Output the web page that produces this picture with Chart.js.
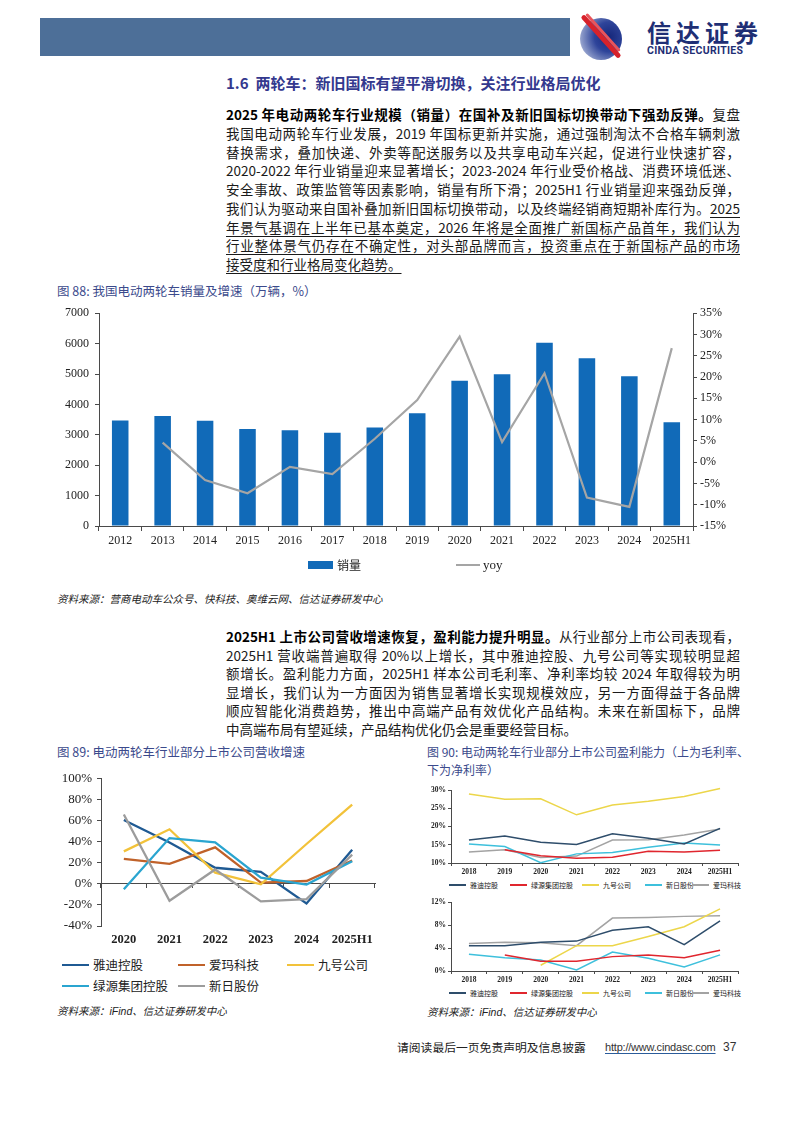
<!DOCTYPE html>
<html><head><meta charset="utf-8">
<script src="https://cdn.jsdelivr.net/npm/chart.js@4.4.0/dist/chart.umd.min.js"></script>
<style>
html,body{margin:0;padding:0;background:#fff;}
body{width:794px;height:1123px;position:relative;overflow:hidden;font-family:"Noto Sans CJK SC","Noto Sans",sans-serif;color:#111;}
.abs{position:absolute;}
.pl{position:absolute;left:226px;width:514px;height:18px;line-height:18px;font-size:13.5px;text-align:justify;text-align-last:justify;color:#1a1a1a;}
.pl.last{text-align-last:left;}
.pl b{font-weight:700;color:#000;}
.pl u{text-underline-offset:3px;text-decoration-thickness:1px;}
.ftitle{position:absolute;font-size:12.5px;color:#3b4a8c;line-height:16px;white-space:nowrap;}
.src{position:absolute;font-size:10.5px;font-style:italic;color:#222;white-space:nowrap;line-height:14px;}
.lg{position:absolute;white-space:nowrap;}
canvas{position:absolute;}
</style></head>
<body>
<!-- header -->
<div class="abs" style="left:40px;top:18px;width:530px;height:38px;background:#4d6f98;"></div>
<div class="abs" style="left:580px;top:18px;width:42px;height:42px;border-radius:50%;background:radial-gradient(circle at 70% 45%,#16277a 0%,#2e449a 40%,#8d9bc9 75%,#e9ecf5 100%);"></div>
<div class="abs" style="left:573px;top:34px;width:56px;height:5px;background:#d7222b;transform:rotate(48deg);border-radius:3px;"></div>
<div class="abs" style="left:578px;top:31px;width:50px;height:3px;background:#e9545a;transform:rotate(48deg);border-radius:2px;"></div>
<div class="abs" style="left:647px;top:19px;font-size:24px;font-weight:700;color:#1f2f75;letter-spacing:5px;line-height:26px;white-space:nowrap;">信达证券</div>
<div class="abs" style="left:647px;top:46px;font-size:10.5px;font-weight:700;color:#1f2f75;letter-spacing:0.3px;line-height:10px;white-space:nowrap;font-family:'Roboto','Noto Sans',sans-serif;">CINDA SECURITIES</div>

<!-- section title -->
<div class="abs" style="left:226px;top:74px;font-size:15px;font-weight:700;color:#33388e;line-height:18px;white-space:nowrap;">1.6&nbsp; 两轮车：新旧国标有望平滑切换，关注行业格局优化</div>

<!-- paragraph 1 -->
<div class="pl" style="top:105px;"><b>2025 年电动两轮车行业规模（销量）在国补及新旧国标切换带动下强劲反弹。</b>复盘</div>
<div class="pl" style="top:124px;">我国电动两轮车行业发展，2019 年国标更新并实施，通过强制淘汰不合格车辆刺激</div>
<div class="pl" style="top:142.5px;">替换需求，叠加快递、外卖等配送服务以及共享电动车兴起，促进行业快速扩容，</div>
<div class="pl" style="top:161px;">2020-2022 年行业销量迎来显著增长；2023-2024 年行业受价格战、消费环境低迷、</div>
<div class="pl" style="top:180px;">安全事故、政策监管等因素影响，销量有所下滑；2025H1 行业销量迎来强劲反弹，</div>
<div class="pl" style="top:199px;">我们认为驱动来自国补叠加新旧国标切换带动，以及终端经销商短期补库行为。<u>2025</u></div>
<div class="pl" style="top:217.5px;"><u>年景气基调在上半年已基本奠定，2026 年将是全面推广新国标产品首年，我们认为</u></div>
<div class="pl" style="top:236px;"><u>行业整体景气仍存在不确定性，对头部品牌而言，投资重点在于新国标产品的市场</u></div>
<div class="pl last" style="top:255px;"><u>接受度和行业格局变化趋势。</u></div>

<!-- figure 88 -->
<div class="ftitle" style="left:57px;top:283px;">图 88: 我国电动两轮车销量及增速（万辆，%）</div>
<canvas id="c88" width="720" height="260" style="left:40px;top:300px;width:720px;height:260px;"></canvas>
<div class="lg" style="left:308px;top:561px;width:25px;height:8px;background:#116ab8;"></div>
<div class="lg" style="left:337px;top:557px;font-size:12px;line-height:16px;color:#222;">销量</div>
<div class="lg" style="left:456px;top:564px;width:24px;height:2px;background:#a5a5a5;"></div>
<div class="lg" style="left:483px;top:557px;font-size:13px;line-height:16px;color:#222;font-family:'Liberation Serif',serif;">yoy</div>
<div class="src" style="left:57px;top:592px;">资料来源：营商电动车公众号、快科技、奥维云网、信达证券研发中心</div>

<!-- paragraph 2 -->
<div class="pl" style="top:627px;"><b>2025H1 上市公司营收增速恢复，盈利能力提升明显。</b>从行业部分上市公司表现看，</div>
<div class="pl" style="top:645.5px;">2025H1 营收端普遍取得 20%以上增长，其中雅迪控股、九号公司等实现较明显超</div>
<div class="pl" style="top:664px;">额增长。盈利能力方面，2025H1 样本公司毛利率、净利率均较 2024 年取得较为明</div>
<div class="pl" style="top:682.5px;">显增长，我们认为一方面因为销售显著增长实现规模效应，另一方面得益于各品牌</div>
<div class="pl" style="top:701px;">顺应智能化消费趋势，推出中高端产品有效优化产品结构。未来在新国标下，品牌</div>
<div class="pl last" style="top:719.5px;">中高端布局有望延续，产品结构优化仍会是重要经营目标。</div>

<!-- figure 89 -->
<div class="ftitle" style="left:57px;top:744px;">图 89: 电动两轮车行业部分上市公司营收增速</div>
<canvas id="c89" width="345" height="184" style="left:40px;top:766px;width:345px;height:184px;"></canvas>
<div id="lg89"></div>
<div class="src" style="left:57px;top:1004px;">资料来源：<span style="font-family:'Liberation Sans',sans-serif;">iFind</span>、信达证券研发中心</div>

<!-- figure 90 -->
<div class="ftitle" style="left:427px;top:744px;font-size:12px;">图 90: 电动两轮车行业部分上市公司盈利能力（上为毛利率、</div>
<div class="ftitle" style="left:427px;top:762px;font-size:12px;">下为净利率）</div>
<canvas id="c90a" width="330" height="98" style="left:420px;top:782px;width:330px;height:98px;"></canvas>
<div id="lg90a"></div>
<canvas id="c90b" width="330" height="94" style="left:420px;top:894px;width:330px;height:94px;"></canvas>
<div id="lg90b"></div>
<div class="src" style="left:427px;top:1005px;">资料来源：<span style="font-family:'Liberation Sans',sans-serif;">iFind</span>、信达证券研发中心</div>

<!-- footer -->
<div class="abs" style="left:397px;top:1040px;font-size:11.8px;line-height:14px;color:#222;white-space:nowrap;">请阅读最后一页免责声明及信息披露</div>
<div class="abs" style="left:605px;top:1040px;font-size:11px;line-height:14px;color:#333;white-space:nowrap;font-family:'Liberation Sans',sans-serif;letter-spacing:-0.2px;text-decoration:underline;text-decoration-color:#2b5c9a;text-underline-offset:2px;">http://www.cindasc.com</div>
<div class="abs" style="left:723px;top:1040px;font-size:12px;line-height:14px;color:#333;font-family:'Liberation Sans',sans-serif;">37</div>

<script>
// ---------- data ----------
const years88 = ['2012','2013','2014','2015','2016','2017','2018','2019','2020','2021','2022','2023','2024','2025H1'];
const sales88 = [3470,3620,3460,3190,3150,3070,3240,3710,4780,4990,6030,5520,4930,3410];
const yoy88 = [null,4.6,-4.2,-7.3,-1.1,-2.8,5.5,14.6,29.5,4.7,20.9,-8.3,-10.5,26.8];

const years89 = ['2020','2021','2022','2023','2024','2025H1'];
const names89 = ['雅迪控股','爱玛科技','九号公司','绿源集团控股','新日股份'];
const yadea89 = [60.8,39.5,15.4,11.6,-18.5,32.6];
const aima89 = [23.8,19.1,34.8,1.2,2.8,22.3];
const ninebot89 = [31.0,52.0,10.7,-0.3,38.0,75.5];
const luyuan89 = [-5.0,43.6,39.5,6.0,-0.6,21.6];
const sunra89 = [66.0,-16.0,13.8,-16.6,-14.4,27.9];

const years90 = ['2018','2019','2020','2021','2022','2023','2024','2025H1'];
const names90 = ['雅迪控股','绿源集团控股','九号公司','新日股份','爱玛科技'];
const gmYadea = [16.3,17.4,15.7,15.1,18.0,16.8,15.2,19.5];
const gmLuyuan = [null,13.6,12.0,11.3,11.6,13.2,13.0,13.5];
const gmNinebot = [28.9,27.5,27.6,23.2,25.9,26.9,28.2,30.4];
const gmSunra = [15.2,14.5,10.1,12.5,12.9,14.3,15.5,14.9];
const gmAima = [13.0,13.6,11.5,11.9,16.3,16.4,17.7,19.3];
const nmYadea = [4.4,4.4,5.0,5.2,7.1,7.7,4.6,8.7];
const nmLuyuan = [null,2.8,1.7,1.7,2.5,2.8,2.3,3.6];
const nmNinebot = [null,null,1.0,4.4,4.4,6.0,7.7,10.8];
const nmSunra = [2.9,2.3,1.9,0.2,3.3,2.2,0.7,2.8];
const nmAima = [4.8,5.0,4.9,4.4,9.2,9.3,9.5,9.6];

// ---------- styles ----------
const SERIF = "'Liberation Serif','Times New Roman',serif";
const AX = '#4a4a4a';
const col89 = ['#1f5a93','#c0622a','#f2c23a','#2aa5d0','#9c9c9c'];
const col90 = ['#2e4d6b','#e0262e','#ecd64a','#3ec0dc','#a3a3a3'];

Chart.defaults.animation = false;
Chart.defaults.responsive = false;
Chart.defaults.devicePixelRatio = 1;
Chart.defaults.plugins.legend.display = false;
Chart.defaults.plugins.tooltip.enabled = false;

// ---------- chart 88 ----------
new Chart(document.getElementById('c88'), {
  data: { labels: years88, datasets: [
    { type:'line', label:'yoy', data: yoy88, yAxisID:'y1', xAxisID:'x', borderColor:'#a5a5a5', borderWidth:2.2, pointRadius:0, tension:0, order:1 },
    { type:'bar', label:'销量', data: sales88, yAxisID:'y', xAxisID:'x', backgroundColor:'#116ab8', barPercentage:0.39, categoryPercentage:1, order:2 }
  ]},
  options: {
    layout: { padding: { top:13, left:0, right:0, bottom:0 } },
    scales: {
      x: { type:'category', offset:true,
           grid:{ display:true, drawOnChartArea:false, offset:true, tickLength:5, color:AX },
           border:{ display:true, color:AX, width:1 },
           ticks:{ font:{ family:SERIF, size:12 }, color:'#222', padding:3, maxRotation:0, autoSkip:false },
           afterFit(s){ s.height = 34; } },
      y: { position:'left', min:0, max:7000,
           ticks:{ stepSize:1000, font:{ family:SERIF, size:12 }, color:'#222', padding:6, callback:v=>String(v) },
           grid:{ drawOnChartArea:false, tickLength:4, color:AX },
           border:{ display:true, color:AX },
           afterFit(s){ s.width = 59; } },
      y1:{ position:'right', min:-15, max:35,
           ticks:{ stepSize:5, font:{ family:SERIF, size:12 }, color:'#222', padding:3, callback:v=>v+'%' },
           grid:{ drawOnChartArea:false, tickLength:4, color:AX },
           border:{ display:true, color:AX },
           afterFit(s){ s.width = 67; } }
    }
  }
});

// ---------- chart 89 ----------
const series89 = [yadea89, aima89, ninebot89, luyuan89, sunra89];
new Chart(document.getElementById('c89'), {
  type:'line',
  data: { labels: years89, datasets: series89.map((d,i)=>({
    label:names89[i], data:d, xAxisID:'x', yAxisID:'y', borderColor:col89[i], borderWidth:2.3, pointRadius:0, tension:0
  })).reverse() },
  options: {
    layout:{ padding:{ top:11, left:0, right:10, bottom:0 } },
    scales: {
      x: { type:'category', offset:true, position:'bottom',
           grid:{ display:false, drawTicks:false, tickLength:0 }, border:{ display:false },
           ticks:{ font:{ family:SERIF, size:12.5, weight:'bold' }, color:'#222', padding:6, maxRotation:0, autoSkip:false },
           afterFit(s){ s.height = 24; } },
      x2:{ type:'category', axis:'x', offset:true, position:{ y:0 },
           ticks:{ display:false },
           grid:{ drawOnChartArea:false, offset:true, tickLength:4, color:AX },
           border:{ display:true, color:AX } },
      y: { min:-40, max:100,
           ticks:{ stepSize:20, font:{ family:SERIF, size:13 }, color:'#222', padding:5, callback:v=>v+'%' },
           grid:{ drawOnChartArea:false, tickLength:4, color:AX },
           border:{ display:true, color:AX },
           afterFit(s){ s.width = 61; } }
    }
  }
});

// ---------- chart 90 ----------
function chart90(id, sets, min, max, step){
  new Chart(document.getElementById(id), {
    type:'line',
    data:{ labels: years90, datasets: sets.map((d,i)=>({
      label:names90[i], data:d, borderColor:col90[i], borderWidth:1.5, pointRadius:0, tension:0, spanGaps:false, clip:false
    })) },
    options:{
      layout:{ padding:{ top:8, left:0, right:12, bottom:0 } },
      scales:{
        x:{ offset:true,
            grid:{ display:true, drawOnChartArea:false, offset:true, tickLength:3, color:AX },
            border:{ display:true, color:AX },
            ticks:{ font:{ family:SERIF, size:7.5, weight:'bold' }, color:'#222', padding:2, maxRotation:0, autoSkip:false },
            afterFit(s){ s.height = 17; } },
        y:{ min:min, max:max,
            ticks:{ stepSize:step, font:{ family:SERIF, size:7.5, weight:'bold' }, color:'#222', padding:2, callback:v=>v+'%' },
            grid:{ drawOnChartArea:false, tickLength:3, color:AX },
            border:{ display:true, color:AX },
            afterFit(s){ s.width = 31; } }
      }
    }
  });
}
chart90('c90a', [gmYadea, gmLuyuan, gmNinebot, gmSunra, gmAima], 10, 30, 5);
chart90('c90b', [nmYadea, nmLuyuan, nmNinebot, nmSunra, nmAima], 0, 12, 2);

// ---------- legends ----------
function addLegend(holderId, items){
  const h = document.getElementById(holderId);
  items.forEach(it=>{
    const l = document.createElement('div');
    l.className='lg';
    l.style.cssText = `left:${it.x}px;top:${it.y - it.lw/2}px;width:${it.len}px;height:${it.lw}px;background:${it.c};`;
    h.appendChild(l);
    const t = document.createElement('div');
    t.className='lg';
    t.textContent = it.t;
    t.style.cssText += `left:${it.x+it.len+it.gap}px;top:${it.y - it.fs*0.75}px;font-size:${it.fs}px;line-height:${it.fs*1.5}px;color:#222;`;
    h.appendChild(t);
  });
}
const pos89 = [[62,965],[178,965],[287,965],[62,986],[178,986]];
addLegend('lg89', names89.map((n,i)=>({t:n, c:col89[i], x:pos89[i][0], y:pos89[i][1], len:27, lw:2.5, gap:4, fs:12.5})));
const xs90 = [449,510,582,645,692];
addLegend('lg90a', names90.map((n,i)=>({t:n, c:col90[i], x:xs90[i], y:885, len:17, lw:1.5, gap:4, fs:7})));
addLegend('lg90b', names90.map((n,i)=>({t:n, c:col90[i], x:xs90[i], y:993, len:17, lw:1.5, gap:4, fs:7})));
</script>
</body></html>
